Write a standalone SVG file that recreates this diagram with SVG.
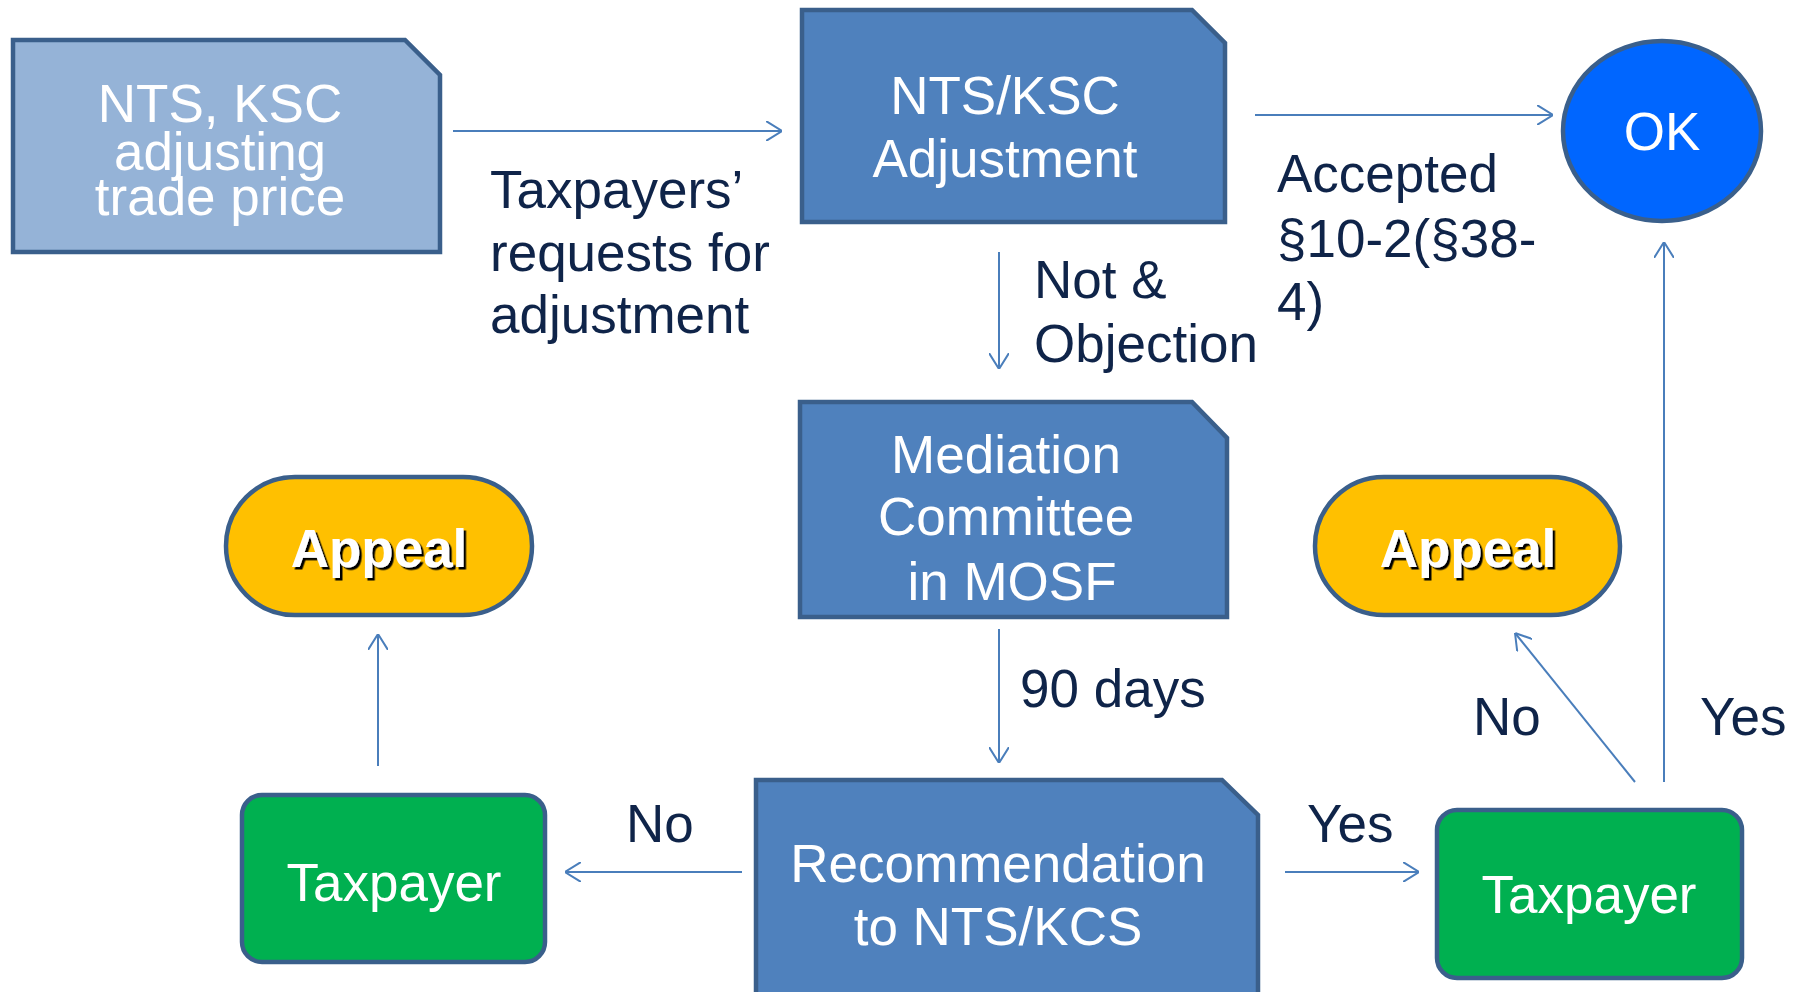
<svg xmlns="http://www.w3.org/2000/svg" width="1805" height="992" viewBox="0 0 1805 992">
<defs>
<style>
.box{stroke:#3A5F8B;stroke-width:4.5;stroke-linejoin:miter}
.dark{fill:#4F81BD}
.light{fill:#95B3D7}
.wt{font-family:"Liberation Sans",Arial,sans-serif;font-size:53px;fill:#FFFFFF;text-anchor:middle}
.lbl{font-family:"Liberation Sans",Arial,sans-serif;font-size:53px;fill:#0F2449}
.conn{stroke:#4A7EBB;stroke-width:2;fill:none;marker-end:url(#arr)}
.appeal{fill:#FFC000;stroke:#3A5F8B;stroke-width:4.5}
.tp{fill:#00B050;stroke:#3A5F8B;stroke-width:4.5}
.ap{font-family:"Liberation Sans",Arial,sans-serif;font-size:53px;font-weight:bold;fill:#FFFFFF;text-anchor:middle;filter:url(#sh)}
</style>
<marker id="arr" viewBox="0 0 16 20" refX="16" refY="10" markerWidth="16" markerHeight="20" markerUnits="userSpaceOnUse" orient="auto">
<path d="M0,0 L16,10 L0,20" fill="none" stroke="#4A7EBB" stroke-width="2"/>
</marker>
<filter id="sh" x="-10%" y="-10%" width="130%" height="140%">
<feDropShadow dx="2.5" dy="2.5" stdDeviation="0" flood-color="#000000" flood-opacity="1"/>
</filter>
</defs>
<rect width="1805" height="992" fill="#FFFFFF"/>

<g id="connectors">
<line class="conn" x1="453" y1="131" x2="782" y2="131"/>
<line class="conn" x1="1255" y1="115" x2="1553" y2="115"/>
<line class="conn" x1="999" y1="252" x2="999" y2="369"/>
<line class="conn" x1="999" y1="629" x2="999" y2="763"/>
<line class="conn" x1="742" y1="872" x2="565" y2="872"/>
<line class="conn" x1="1285" y1="872" x2="1419" y2="872"/>
<line class="conn" x1="378" y1="766" x2="378" y2="634"/>
<line class="conn" x1="1635" y1="782" x2="1515" y2="633"/>
<line class="conn" x1="1664" y1="782" x2="1664" y2="242"/>
</g>

<g id="labels">
<text class="lbl" x="490" y="208">Taxpayers’</text>
<text class="lbl" x="490" y="271">requests for</text>
<text class="lbl" x="490" y="333">adjustment</text>
<text class="lbl" x="1277" y="192">Accepted</text>
<text class="lbl" x="1277" y="257">§10-2(§38-</text>
<text class="lbl" x="1277" y="320">4)</text>
<text class="lbl" x="1034" y="298">Not &amp;</text>
<text class="lbl" x="1034" y="362">Objection</text>
<text class="lbl" x="1020" y="707">90 days</text>
<text class="lbl" x="626" y="842">No</text>
<text class="lbl" x="1307" y="842">Yes</text>
<text class="lbl" x="1473" y="735">No</text>
<text class="lbl" x="1700" y="735">Yes</text>
</g>

<g id="node-start">
<polygon class="box light" points="13,40 405,40 440,75 440,252 13,252"/>
<text class="wt" x="220" y="122">NTS, KSC</text>
<text class="wt" x="220" y="170">adjusting</text>
<text class="wt" x="220" y="215">trade price</text>
</g>

<g id="node-adjustment">
<polygon class="box dark" points="802,10 1192,10 1225,43 1225,222 802,222"/>
<text class="wt" x="1005" y="114">NTS/KSC</text>
<text class="wt" x="1005" y="177">Adjustment</text>
</g>

<g id="node-ok">
<ellipse cx="1662" cy="131" rx="99" ry="90" fill="#0066FF" stroke="#3A5F8B" stroke-width="4.5"/>
<text class="wt" x="1662" y="150">OK</text>
</g>

<g id="node-mediation">
<polygon class="box dark" points="800,402 1192,402 1227,438 1227,617 800,617"/>
<text class="wt" x="1006" y="473">Mediation</text>
<text class="wt" x="1006" y="535">Committee</text>
<text class="wt" x="1012" y="600">in MOSF</text>
</g>

<g id="node-recommendation">
<polygon class="box dark" points="756,780 1222,780 1258,815 1258,1000 756,1000"/>
<text class="wt" x="998" y="882">Recommendation</text>
<text class="wt" x="998" y="945">to NTS/KCS</text>
</g>

<g id="node-appeal-left">
<rect class="appeal" x="226" y="477" width="306" height="138" rx="69" ry="69"/>
<text class="ap" x="379" y="567">Appeal</text>
</g>

<g id="node-appeal-right">
<rect class="appeal" x="1315" y="477" width="305" height="138" rx="69" ry="69"/>
<text class="ap" x="1468" y="567">Appeal</text>
</g>

<g id="node-taxpayer-left">
<rect class="tp" x="242" y="795" width="303" height="167" rx="20" ry="20"/>
<text class="wt" x="394" y="901">Taxpayer</text>
</g>

<g id="node-taxpayer-right">
<rect class="tp" x="1437" y="810" width="305" height="168" rx="20" ry="20"/>
<text class="wt" x="1589" y="913">Taxpayer</text>
</g>
</svg>
